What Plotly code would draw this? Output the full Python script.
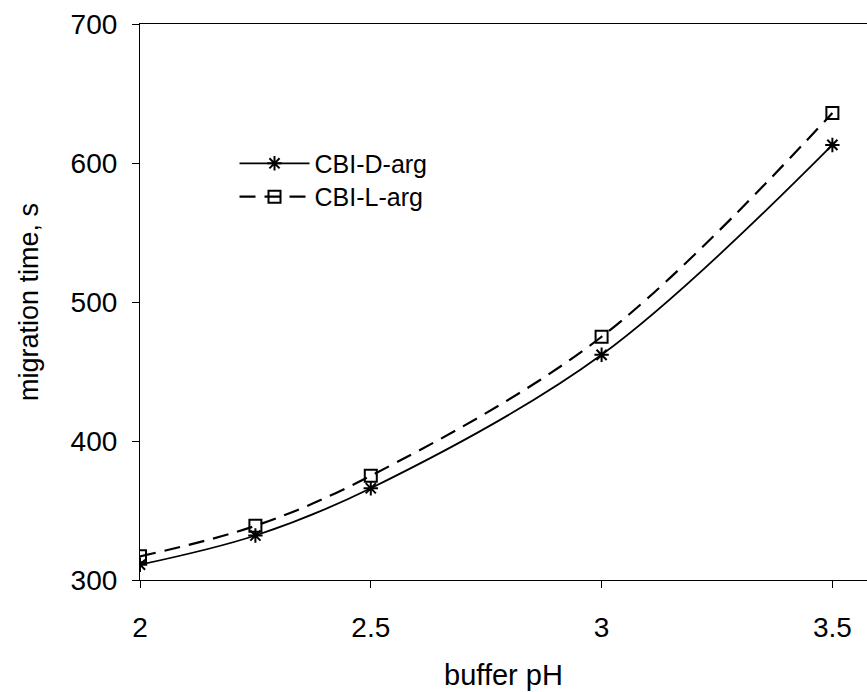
import plotly.graph_objects as go

ph = [2.0, 2.25, 2.5, 3.0, 3.5]
d_arg = [311, 332, 366, 462, 613]
l_arg = [317, 339, 375, 475, 636]
x_ticks = [2, 2.5, 3, 3.5]
x_tick_text = ["2", "2.5", "3", "3.5"]
y_ticks = [300, 400, 500, 600, 700]

fig = go.Figure()
fig.add_trace(go.Scatter(
    x=ph, y=d_arg, name="CBI-D-arg", mode="lines+markers", legend="legend",
    line=dict(color="black", width=1.8, shape="spline", dash="solid"),
    marker=dict(symbol="asterisk-open", size=12, color="black", line=dict(width=2, color="black")),
))
fig.add_trace(go.Scatter(
    x=ph, y=l_arg, name="CBI-L-arg", mode="lines+markers", legend="legend2",
    line=dict(color="black", width=2.2, shape="spline", dash="16px,9px"),
    marker=dict(symbol="square-open", size=12, color="black", line=dict(width=2, color="black")),
))

leg = dict(xanchor="left", yanchor="middle", bgcolor="rgba(0,0,0,0)",
           font=dict(size=25), itemwidth=70)

fig.update_layout(
    width=867, height=692,
    margin=dict(l=140, r=0, t=24, b=112),
    plot_bgcolor="white", paper_bgcolor="white",
    font=dict(family="Liberation Sans, Arial, sans-serif", size=28, color="black"),
    showlegend=True,
    legend=dict(x=0.13, y=0.749, **leg),
    legend2=dict(x=0.13, y=0.689, **leg),
    xaxis=dict(range=[2, 3.575], tickvals=x_ticks, ticktext=x_tick_text,
               showgrid=False, zeroline=False, showline=True, linecolor="black",
               linewidth=1.2, mirror=True, ticks="outside", ticklen=7, tickcolor="black",
               ticklabelstandoff=15, tickfont=dict(size=28),
               title=dict(text="buffer pH", standoff=22, font=dict(size=29))),
    yaxis=dict(range=[300, 700], tickvals=y_ticks,
               showgrid=False, zeroline=False, showline=True, linecolor="black",
               linewidth=1.2, mirror=True, ticks="outside", ticklen=7, tickcolor="black",
               ticklabelstandoff=9, tickfont=dict(size=28),
               title=dict(text="migration time, s", standoff=24, font=dict(size=27))),
)

fig.write_html("out.html")
